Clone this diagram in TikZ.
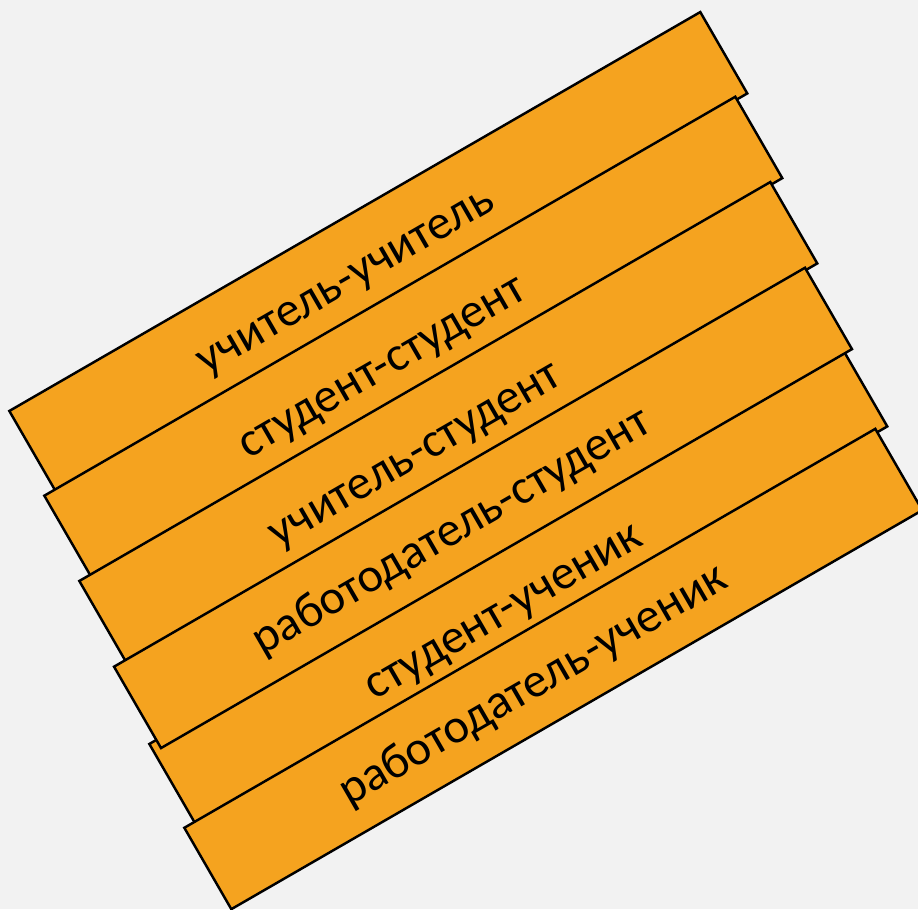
\documentclass[tikz,border=0pt]{standalone}
\usepackage{fontspec}
\setmainfont{Carlito}
\definecolor{stripfill}{RGB}{245,163,31}
\definecolor{pagebg}{RGB}{242,242,242}

\begin{document}
\begin{tikzpicture}[x=.02cm,y=-.02cm]
\tikzstyle{strip}=[draw=black, fill=stripfill, line width=1.4pt, rectangle, rotate=30, inner sep=0pt, minimum width=15.96cm, minimum height=1.88cm]
\tikzstyle{lbl}=[rotate=30, inner sep=0pt, text height=.47em, text depth=.19em, font=\fontsize{27.6}{32}\selectfont]

% background
\fill[pagebg] (0,0) rectangle (918,909);
\useasboundingbox (0,0) rectangle (918,909);

% strips, the fifth one lies under the fourth
\node[strip] (s1) at (378.3,252.2) {};
\node[strip] (s2) at (413.3,336.9) {};
\node[strip] (s3) at (448.3,422.2) {};
\node[strip] (s5) at (518.3,585.2) {};
\node[strip] (s4) at (483,507.9) {};
\node[strip] (s6) at (553.3,669) {};

% labels on strips
\node[lbl] (t1) at (350.5,289.5) {учитель-учитель};
\node[lbl] (t2) at (387,376) {студент-студент};
\node[lbl] (t3) at (420,463.5) {учитель-студент};
\node[lbl] (t4) at (457,541) {работодатель-студент};
\node[lbl] (t5) at (508.5,620.5) {студент-ученик};
\node[lbl] (t6) at (538.5,694.5) {работодатель-ученик};

\end{tikzpicture}
\end{document}
